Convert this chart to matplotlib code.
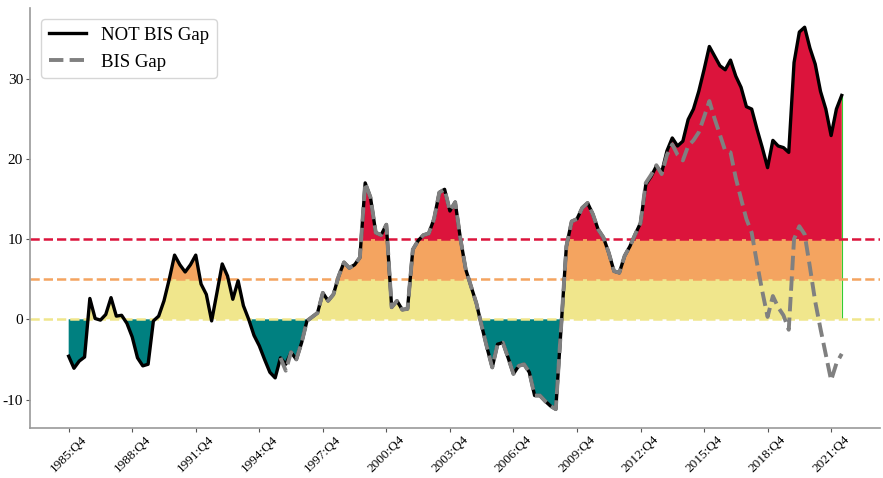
import matplotlib
matplotlib.use("Agg")
import matplotlib.pyplot as plt
import numpy as np

plt.rcParams['font.family'] = ['Liberation Serif', 'DejaVu Serif']
plt.rcParams['axes.unicode_minus'] = False

# Quarterly credit-to-GDP gaps, 1985:Q4 .. 2022:Q2
not_bis_gap = [
    -4.6, -6.1, -5.2, -4.7, 2.6, 0.1, -0.1, 0.6, 2.7, 0.4,
    0.5, -0.5, -2.2, -4.8, -5.8, -5.6, -0.2, 0.4, 2.3, 5.0,
    8.0, 6.8, 5.9, 6.8, 8.0, 4.4, 3.1, -0.2, 3.3, 6.9,
    5.4, 2.5, 4.8, 1.7, 0.0, -2.0, -3.3, -5.0, -6.6, -7.3,
    -4.8, -5.6, -4.1, -5.0, -2.9, -0.2, 0.3, 0.8, 3.3, 2.3,
    3.1, 5.4, 7.1, 6.4, 6.8, 7.7, 17.0, 15.2, 10.8, 10.5,
    11.8, 1.5, 2.3, 1.2, 1.3, 8.7, 9.8, 10.5, 10.7, 12.5,
    15.8, 16.2, 13.5, 14.6, 10.0, 6.2, 4.1, 2.0, -0.8, -3.5,
    -6.0, -3.1, -2.9, -4.8, -6.8, -5.8, -5.6, -6.6, -9.5, -9.5,
    -10.2, -10.8, -11.2, -1.0, 9.1, 12.2, 12.5, 13.9, 14.5, 13.1,
    11.2, 10.2, 8.3, 6.0, 5.8, 7.9, 9.1, 10.6, 12.0, 16.8,
    17.8, 19.1, 18.3, 21.0, 22.6, 21.6, 22.2, 24.9, 26.2, 28.4,
    31.1, 34.0, 32.8, 31.6, 31.1, 32.3, 30.3, 28.9, 26.5, 26.2,
    23.7, 21.4, 18.9, 22.3, 21.6, 21.4, 20.8, 32.0, 35.8, 36.4,
    33.8, 31.8, 28.4, 26.2, 22.9, 26.2, 27.9,
]

# BIS series starts in 1995:Q4 (index 40)
bis_start = 40
bis_gap = [
    -4.8, -6.4, -4.1, -5.0, -2.9, -0.2, 0.3, 0.8, 3.3, 2.3,
    3.1, 5.4, 7.1, 6.4, 6.8, 7.7, 17.0, 15.2, 10.8, 10.5,
    11.8, 1.5, 2.3, 1.2, 1.3, 8.7, 9.8, 10.5, 10.7, 12.5,
    15.8, 16.2, 13.5, 14.6, 10.0, 6.2, 4.1, 2.0, -0.8, -3.5,
    -6.0, -3.1, -2.9, -4.8, -6.8, -5.8, -5.6, -6.6, -9.5, -9.5,
    -10.2, -10.8, -11.2, -1.0, 9.1, 12.2, 12.5, 13.9, 14.5, 13.1,
    11.2, 10.2, 8.3, 6.0, 5.8, 7.9, 9.1, 10.6, 12.0, 17.0,
    18.0, 19.2, 18.1, 20.5, 21.8, 20.5, 19.8, 21.6, 22.3, 23.3,
    25.2, 27.2, 25.0, 23.0, 21.0, 20.8, 17.6, 15.0, 12.5, 10.8,
    7.0, 3.5, 0.3, 2.9, 1.5, 0.5, -1.3, 10.0, 11.6, 10.6,
    6.5, 2.2, -1.2, -4.4, -7.6, -5.5, -4.3,
]

tick_labels = [f"{yr}:Q4" for yr in range(1985, 2022, 3)]
thresholds = [0, 5, 10]

y = np.array(not_bis_gap)
x = np.arange(len(y))
xb = np.arange(bis_start, bis_start + len(bis_gap))

fig = plt.figure(figsize=(8.83, 4.78), dpi=100)
ax = fig.add_axes([0.034, 0.104, 0.963, 0.879])

# coloured bands under the curve
ax.fill_between(x, y, 0, where=y < 0, interpolate=True, color='teal', lw=0)
ax.fill_between(x, 0, y, where=y > 0, interpolate=True, color='khaki', lw=0)
ax.fill_between(x, 5, y, where=y > 5, interpolate=True, color='sandybrown', lw=0)
ax.fill_between(x, 10, y, where=y > 10, interpolate=True, color='crimson', lw=0)
ax.vlines(x[-1], 0, y[-1], color='limegreen', lw=0.8)

for level, c in zip(thresholds, ['khaki', 'sandybrown', 'crimson']):
    ax.axhline(level, color=c, ls='--', lw=1.8)

ax.plot(x, y, color='black', lw=2.4, label='NOT BIS Gap', zorder=5)
ax.plot(xb, bis_gap, color='grey', lw=2.8, ls='--',
        label='BIS Gap', zorder=6)

ax.set_xticks(np.arange(0, len(y), 12))
ax.set_xticklabels(tick_labels, rotation=45, fontsize=9.5)
ax.set_yticks([-10, 0, 10, 20, 30])
ax.tick_params(axis='y', labelsize=11, pad=2)
ax.tick_params(axis='x', pad=0.5)
ax.tick_params(colors='#555555', labelcolor='black', length=3)

for side in ['top', 'right']:
    ax.spines[side].set_visible(False)
for side in ['left', 'bottom']:
    ax.spines[side].set_color('#999999')
    ax.spines[side].set_linewidth(1.2)

ax.legend(loc='upper left', fontsize=13.5, handlelength=2.0,
          borderaxespad=0.6)

fig.savefig('out.png', dpi=100)
